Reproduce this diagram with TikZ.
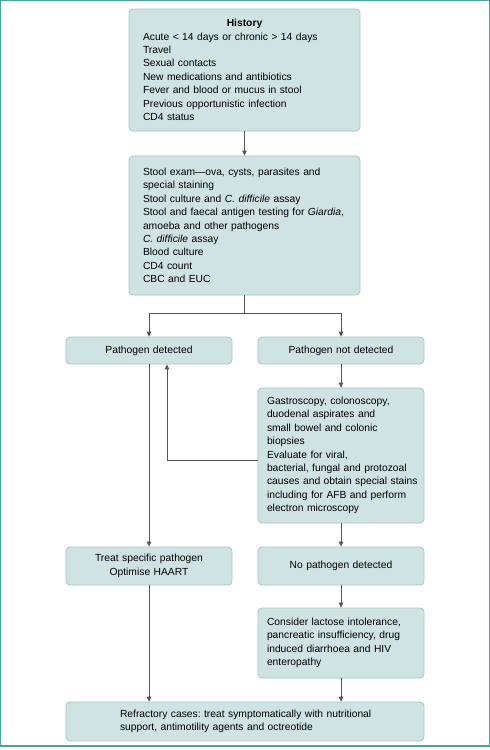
\documentclass[tikz,border=0pt]{standalone}
\usepackage{fontspec}
\setmainfont{Liberation Sans}
\usetikzlibrary{arrows.meta}
\definecolor{boxfill}{RGB}{207,227,226}
\definecolor{boxline}{RGB}{160,200,197}
\definecolor{framecol}{RGB}{80,160,155}
\definecolor{arrcol}{RGB}{85,85,85}
\newcommand{\tline}[1]{\mbox{#1}}
\frenchspacing
\begin{document}
\begin{tikzpicture}[x=1pt,y=-1pt,
  fbox/.style={draw=boxline, fill=boxfill, rounded corners=4pt, line width=0.8pt,
    inner ysep=0pt, anchor=center, font=\fontsize{10.3}{13.4}\selectfont},
  conn/.style={draw=arrcol, line width=0.8pt},
  arr/.style={conn, -{Triangle[length=5pt,width=4.5pt]}}]
\useasboundingbox (0,0) rectangle (490,750);
\draw[framecol, line width=1.4pt] (0.7,0.7) rectangle (489.3,746);

\node[fbox, inner xsep=14pt, text width=203pt, minimum height=122pt, align=left] (hist) at (244.5,70)
  {\makebox[203pt]{\textbf{History}}\\
   \tline{Acute < 14 days or chronic > 14 days}\\
   \tline{Travel}\\
   \tline{Sexual contacts}\\
   \tline{New medications and antibiotics}\\
   \tline{Fever and blood or mucus in stool}\\
   \tline{Previous opportunistic infection}\\
   \tline{CD4 status}};

\node[fbox, inner xsep=14pt, text width=203pt, minimum height=139pt, align=left] (stool) at (244.5,225.5)
  {\tline{Stool exam---ova, cysts, parasites and}\\
   \tline{special staining}\\
   \tline{Stool culture and \textit{C. difficile} assay}\\
   \tline{Stool and faecal antigen testing for \textit{Giardia},}\\
   \tline{amoeba and other pathogens}\\
   \tline{\textit{C. difficile} assay}\\
   \tline{Blood culture}\\
   \tline{CD4 count}\\
   \tline{CBC and EUC}};

\node[fbox, inner xsep=6pt, text width=154pt, minimum height=27pt, align=center] (pd) at (149,350.5)
  {Pathogen detected};
\node[fbox, inner xsep=6pt, text width=154pt, minimum height=27pt, align=center] (pnd) at (341,350.5)
  {Pathogen not detected};

\node[fbox, inner xsep=9pt, text width=148pt, minimum height=135pt, align=left] (gastro) at (341,455.5)
  {\tline{Gastroscopy, colonoscopy,}\\
   \tline{duodenal aspirates and}\\
   \tline{small bowel and colonic}\\
   \tline{biopsies}\\
   \tline{Evaluate for viral,}\\
   \tline{bacterial, fungal and protozoal}\\
   \tline{causes and obtain special stains}\\
   \tline{including for AFB and perform}\\
   \tline{electron microscopy}};

\node[fbox, inner xsep=6pt, text width=154pt, minimum height=38pt, align=center] (treat) at (149,566)
  {Treat specific pathogen\\Optimise HAART};
\node[fbox, inner xsep=6pt, text width=154pt, minimum height=38pt, align=center] (nopd) at (341,566)
  {No pathogen detected};

\node[fbox, inner xsep=9pt, text width=148pt, minimum height=70pt, align=left] (consider) at (341,643)
  {\tline{Consider lactose intolerance,}\\
   \tline{pancreatic insufficiency, drug}\\
   \tline{induced diarrhoea and HIV}\\
   \tline{enteropathy}};

\node[fbox, inner xsep=54pt, text width=250pt, minimum height=39pt, align=left] (refr) at (245,721.5)
  {\tline{Refractory cases: treat symptomatically with nutritional}\\
   \tline{support, antimotility agents and octreotide}};

\coordinate (j) at (244.5,313);
\draw[arr] (hist) -- (stool);
\draw[conn] (stool) -- (j);
\draw[arr] (j) -| (pd.north);
\draw[arr] (j) -| (pnd.north);
\draw[arr] (pnd) -- (gastro);
\draw[arr] ([yshift=-4.5pt]gastro.west) -| ([xshift=18pt]pd.south);
\draw[arr] (pd) -- (treat);
\draw[arr] (gastro) -- (nopd);
\draw[arr] (nopd) -- (consider);
\draw[arr] (treat) -- (treat |- refr.north);
\draw[arr] (consider) -- (consider |- refr.north);
\end{tikzpicture}
\end{document}
